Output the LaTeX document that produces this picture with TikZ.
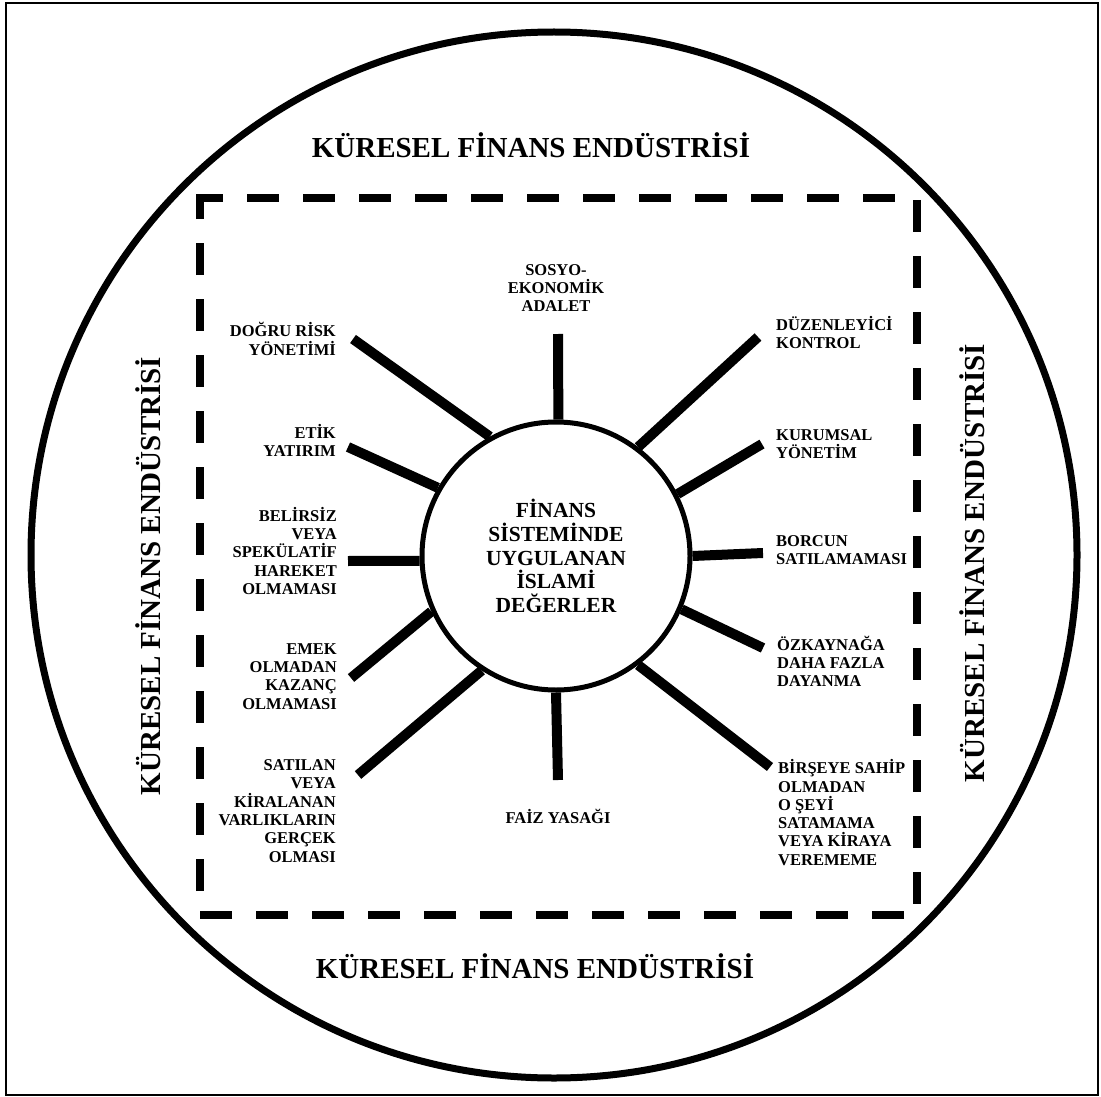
\documentclass[tikz,border=0pt]{standalone}
\usepackage{fontspec}
\setmainfont{Liberation Serif}
\usetikzlibrary{positioning}

\begin{document}
\begin{tikzpicture}[
  x=1pt, y=-1pt,
  lbl/.style={inner sep=0pt, font=\fontsize{16.5}{18.3}\selectfont\bfseries},
  lblleft/.style={lbl, align=right, anchor=east},
  lblright/.style={lbl, align=left, anchor=west},
  spoke/.style={line width=10pt},
  title/.style={inner sep=0pt, font=\fontsize{29}{32}\selectfont\bfseries},
  dashbox/.style={line width=8pt, dash pattern=on 32pt off 24pt}
]
  \useasboundingbox (0,0) rectangle (1101,1097);
  \draw[line width=2pt] (6,3) rectangle (1098,1095);
  \draw[line width=7pt] (554,555) circle[radius=523];
  \draw[dashbox] (200,207) -- (200,198) -- (917,198) -- (917,915) -- (200,915) -- cycle;

  % titles
  \node[title] (ttop) at (531,145) {KÜRESEL FİNANS ENDÜSTRİSİ};
  \node[title] (tbottom) at (535,966) {KÜRESEL FİNANS ENDÜSTRİSİ};
  \node[title, rotate=90] (tleft) at (148,576) {KÜRESEL FİNANS ENDÜSTRİSİ};
  \node[title, rotate=90] (tright) at (972,563) {KÜRESEL FİNANS ENDÜSTRİSİ};

  % core
  \node[circle, draw, line width=5pt, minimum size=268pt, inner sep=0pt, align=center,
        font=\fontsize{21.5}{23.7}\selectfont\bfseries] (core) at (556,556)
    {FİNANS\\SİSTEMİNDE\\UYGULANAN\\İSLAMİ\\DEĞERLER};

  % values
  \node[lbl, align=center] (adalet) at (556,288) {SOSYO-\\EKONOMİK\\ADALET};
  \node[lblleft] (risk) at (336,339) {DOĞRU RİSK\\YÖNETİMİ};
  \node[lblleft] (etik) at (336,440.5) {ETİK\\YATIRIM};
  \node[lblleft] (spek) at (337,551) {BELİRSİZ\\VEYA\\SPEKÜLATİF\\HAREKET\\OLMAMASI};
  \node[lblleft] (emek) at (337,676.5) {EMEK\\OLMADAN\\KAZANÇ\\OLMAMASI};
  \node[lblleft] (varlik) at (336,811) {SATILAN\\VEYA\\KİRALANAN\\VARLIKLARIN\\GERÇEK\\OLMASI};
  \node[lbl] (faiz) at (558,816) {FAİZ YASAĞI};
  \node[lblright] (kontrol) at (776,332.5) {DÜZENLEYİCİ\\KONTROL};
  \node[lblright] (yonetim) at (776,444) {KURUMSAL\\YÖNETİM};
  \node[lblright] (borc) at (776,550) {BORCUN\\SATILAMAMASI};
  \node[lblright] (ozkaynak) at (777,661.5) {ÖZKAYNAĞA\\DAHA FAZLA\\DAYANMA};
  \node[lblright] (sahip) at (778,812.5) {BİRŞEYE SAHİP\\OLMADAN\\O ŞEYİ\\SATAMAMA\\VEYA KİRAYA\\VEREMEME};

  % spoke ends
  \coordinate (eadalet) at (558,334);
  \coordinate (erisk) at (353,339);
  \coordinate (eetik) at (348,447);
  \coordinate (espek) at (348,561);
  \coordinate (eemek) at (351,678);
  \coordinate (evarlik) at (358,775);
  \coordinate (efaiz) at (558,780);
  \coordinate (ekontrol) at (758,337);
  \coordinate (eyonetim) at (762,444);
  \coordinate (eborc) at (763,553);
  \coordinate (eozkaynak) at (763,648);
  \coordinate (esahip) at (770,767);

  \draw[spoke] (core.89.2) -- (eadalet);
  \draw[spoke] (core.119.8) -- (erisk);
  \draw[spoke] (core.150.7) -- (eetik);
  \draw[spoke] (core.182) -- (espek);
  \draw[spoke] (core.204.9) -- (eemek);
  \draw[spoke] (core.237) -- (evarlik);
  \draw[spoke] (core.270.8) -- (efaiz);
  \draw[spoke] (core.53.5) -- (ekontrol);
  \draw[spoke] (core.27.9) -- (eyonetim);
  \draw[spoke] (core.0.5) -- (eborc);
  \draw[spoke] (core.-23.2) -- (eozkaynak);
  \draw[spoke] (core.-53) -- (esahip);
\end{tikzpicture}
\end{document}
